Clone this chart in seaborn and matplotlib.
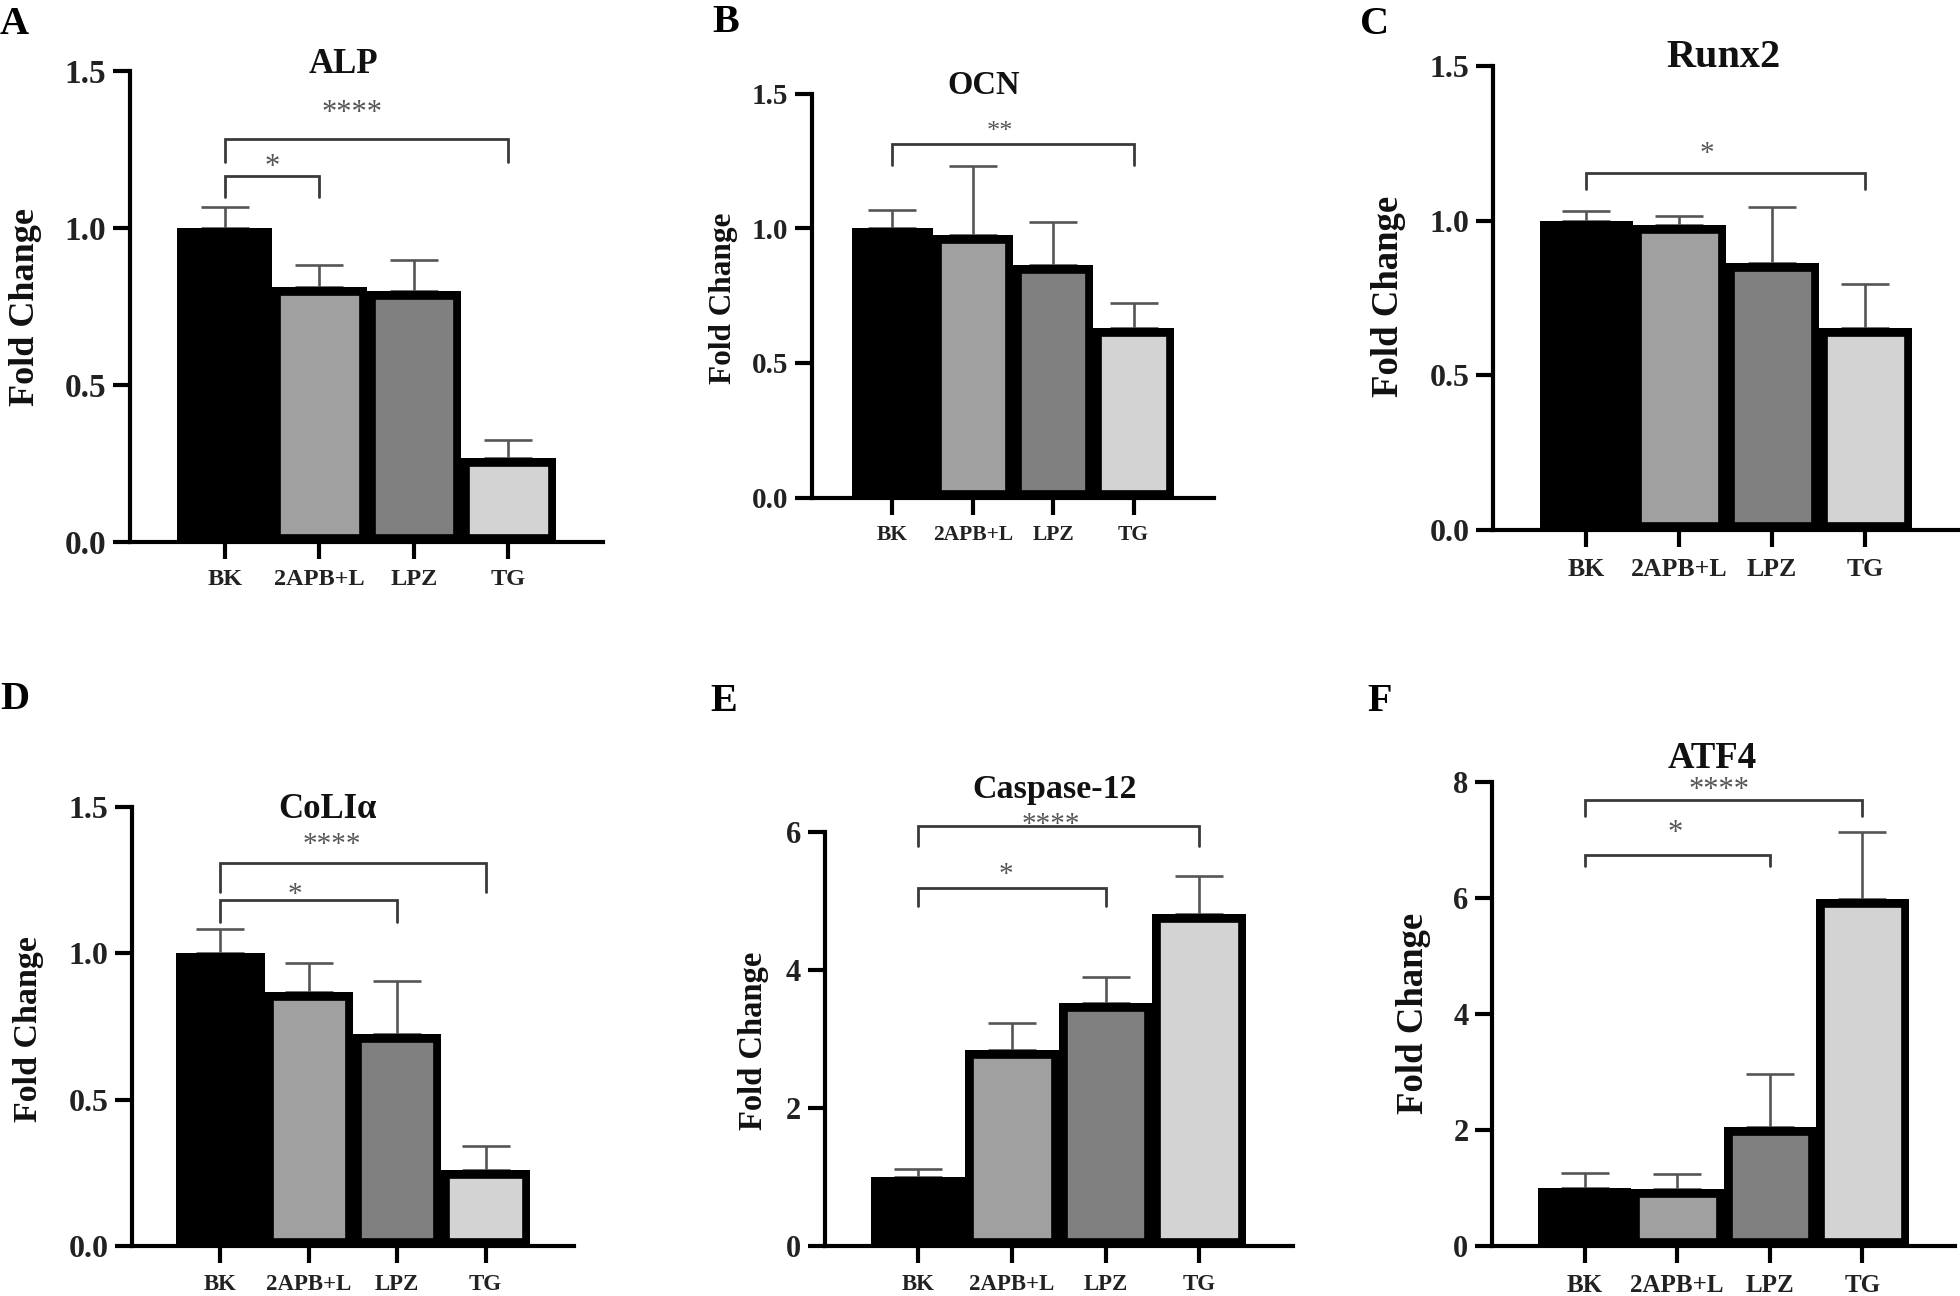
import numpy as np
import pandas as pd
import matplotlib
matplotlib.use("Agg")
import matplotlib.pyplot as plt
import matplotlib.transforms as mtransforms
import seaborn as sns

# ---------------- data ----------------
categories = ["BK", "2APB+L", "LPZ", "TG"]
bar_colors = ["#000000", "#a0a0a0", "#808080", "#d3d3d3"]

alp_mean = [1.00, 0.81, 0.797, 0.265]
alp_upper = [1.065, 0.88, 0.898, 0.324]
ocn_mean = [1.00, 0.977, 0.864, 0.628]
ocn_upper = [1.068, 1.233, 1.023, 0.722]
runx2_mean = [1.00, 0.984, 0.863, 0.652]
runx2_upper = [1.03, 1.015, 1.045, 0.796]
col1a_mean = [1.00, 0.868, 0.724, 0.259]
col1a_upper = [1.084, 0.967, 0.907, 0.342]
casp12_mean = [1.00, 2.84, 3.53, 4.82]
casp12_upper = [1.12, 3.24, 3.90, 5.37]
atf4_mean = [1.00, 0.98, 2.06, 5.98]
atf4_upper = [1.26, 1.24, 2.96, 7.13]

ticks_15 = [0, 0.5, 1.0, 1.5]
ticklabels_15 = ["0.0", "0.5", "1.0", "1.5"]
ticks_6 = [0, 2, 4, 6]
ticks_8 = [0, 2, 4, 6, 8]

# significance brackets: (group i, group j, bar level, tip level, label, label x, label y)
alp_sig = [(0, 3, 1.283, 1.208, "****", 1.35, 1.388), (0, 1, 1.165, 1.099, "*", 0.5, 1.217)]
ocn_sig = [(0, 3, 1.314, 1.236, "**", 1.34, 1.385)]
runx2_sig = [(0, 3, 1.153, 1.101, "*", 1.3, 1.24)]
col1a_sig = [(0, 3, 1.309, 1.208, "****", 1.26, 1.395), (0, 2, 1.181, 1.108, "*", 0.84, 1.226)]
casp12_sig = [(0, 3, 6.1, 5.8, "****", 1.42, 6.22), (0, 2, 5.19, 4.94, "*", 0.93, 5.49)]
atf4_sig = [(0, 3, 7.69, 7.41, "****", 1.45, 7.99), (0, 2, 6.73, 6.55, "*", 0.98, 7.24)]

# ---------------- style ----------------
sns.set_style("ticks")
plt.rcParams["font.family"] = ["Liberation Serif", "DejaVu Serif"]
plt.rcParams["font.weight"] = "bold"

W, H = 1960, 1296
fig = plt.figure(figsize=(W / 100, H / 100), dpi=100)

panels = [
    dict(letter="A", title="ALP", mean=alp_mean, upper=alp_upper, ymax=1.5, yt=ticks_15, ytl=ticklabels_15,
         sig=alp_sig, box=(130, 603, 70.8, 541.5), lxy=(0, 34.4), txy=(343, 73), tfs=25,
         yl=(25, 307), ylfs=26, ytfs=24, xtfs=17.5, afs=22),
    dict(letter="B", title="OCN", mean=ocn_mean, upper=ocn_upper, ymax=1.5, yt=ticks_15, ytl=ticklabels_15,
         sig=ocn_sig, box=(812, 1214, 93.8, 497.5), lxy=(712.5, 32.5), txy=(984, 93.8), tfs=23.5,
         yl=(723, 298.5), ylfs=22.5, ytfs=21, xtfs=15.5, afs=19),
    dict(letter="C", title="Runx2", mean=runx2_mean, upper=runx2_upper, ymax=1.5, yt=ticks_15, ytl=ticklabels_15,
         sig=runx2_sig, box=(1493, 1958, 65.8, 530), lxy=(1360, 34.4), txy=(1723.5, 67), tfs=29,
         yl=(1388, 296.6), ylfs=26.5, ytfs=23, xtfs=18.5, afs=21),
    dict(letter="D", title="CoLIα", mean=col1a_mean, upper=col1a_upper, ymax=1.5, yt=ticks_15, ytl=ticklabels_15,
         sig=col1a_sig, box=(132, 574, 806.9, 1246.2), lxy=(0, 709), txy=(327, 818), tfs=25,
         yl=(28.7, 1029), ylfs=24.5, ytfs=23, xtfs=16.5, afs=21),
    dict(letter="E", title="Caspase-12", mean=casp12_mean, upper=casp12_upper, ymax=6, yt=ticks_6,
         ytl=[str(t) for t in ticks_6], sig=casp12_sig, box=(824.6, 1293, 832.4, 1246.2), lxy=(710.6, 711),
         txy=(1055, 798), tfs=24.5, yl=(753.7, 1041), ylfs=23.5, ytfs=22, xtfs=16.5, afs=21),
    dict(letter="F", title="ATF4", mean=atf4_mean, upper=atf4_upper, ymax=8, yt=ticks_8,
         ytl=[str(t) for t in ticks_8], sig=atf4_sig, box=(1492, 1955, 781.7, 1246.2), lxy=(1367.7, 711),
         txy=(1712, 767.5), tfs=26.5, yl=(1413.6, 1013), ylfs=26.5, ytfs=22, xtfs=18, afs=22),
]

for p in panels:
    left, right, top, bottom = p["box"]
    ax = fig.add_axes([left / W, 1 - bottom / H, (right - left) / W, (bottom - top) / H])
    ax.patch.set_alpha(0)
    df = pd.DataFrame({"group": categories, "value": p["mean"]})
    sns.barplot(data=df, x="group", y="value", hue="group", palette=bar_colors, hue_order=categories,
                order=categories, width=1.0, edgecolor="black", linewidth=12, errorbar=None,
                legend=False, saturation=1, ax=ax, zorder=2)
    # keep the thick border inside each bar (as in the original figure)
    for bar in ax.patches:
        bar.set_linewidth(12)
        bar.set_clip_path(bar)
    mean = np.array(p["mean"])
    upper = np.array(p["upper"])
    ax.errorbar(np.arange(len(categories)), mean, yerr=[np.zeros_like(mean), upper - mean],
                fmt="none", ecolor="#555555", elinewidth=1.9, capsize=17, capthick=1.9, zorder=1)

    ax.set_xlim(-1, 4)
    ax.set_ylim(0, p["ymax"])
    ax.set_yticks(p["yt"])
    ax.set_yticklabels(p["ytl"])
    ax.set_xticks(range(len(categories)))
    ax.set_xticklabels(categories)
    ax.set_xlabel("")
    ax.set_ylabel("")
    for s in ["top", "right"]:
        ax.spines[s].set_visible(False)
    for s in ["left", "bottom"]:
        ax.spines[s].set_linewidth(3)
        ax.spines[s].set_color("black")
        ax.spines[s].set_zorder(3)
    ax.tick_params(axis="both", direction="out", length=12, width=3, color="black", labelcolor="#222222")
    ax.tick_params(axis="y", labelsize=p["ytfs"], pad=5)
    ax.tick_params(axis="x", labelsize=p["xtfs"], pad=8)
    for lab in ax.get_xticklabels() + ax.get_yticklabels():
        lab.set_fontweight("bold")

    # significance brackets
    for (i, j, yb, yt_, lab, lx, ly) in p["sig"]:
        ax.plot([i, i, j, j], [yt_, yb, yb, yt_], color="#3a3a3a", lw=2.0, clip_on=False,
                solid_joinstyle="miter", zorder=4)
        tr = mtransforms.offset_copy(ax.transData, fig=fig, y=-0.5 * p["afs"], units="points")
        ax.text(lx, ly, lab, transform=tr, ha="center", va="baseline", fontsize=p["afs"],
                fontweight="normal", color="#555555", clip_on=False)

    # title, panel letter, y label (pixel positions)
    fig.text(p["txy"][0] / W, 1 - p["txy"][1] / H, p["title"], ha="center", va="baseline",
             fontsize=p["tfs"], fontweight="bold", color="#111111")
    fig.text(p["lxy"][0] / W, 1 - p["lxy"][1] / H, p["letter"], ha="left", va="baseline",
             fontsize=29, fontweight="bold", color="black")
    fig.text(p["yl"][0] / W, 1 - p["yl"][1] / H, "Fold Change", ha="center", va="center",
             rotation=90, fontsize=p["ylfs"], fontweight="bold", color="#111111")

fig.savefig("out.png", dpi=100, facecolor="white")
